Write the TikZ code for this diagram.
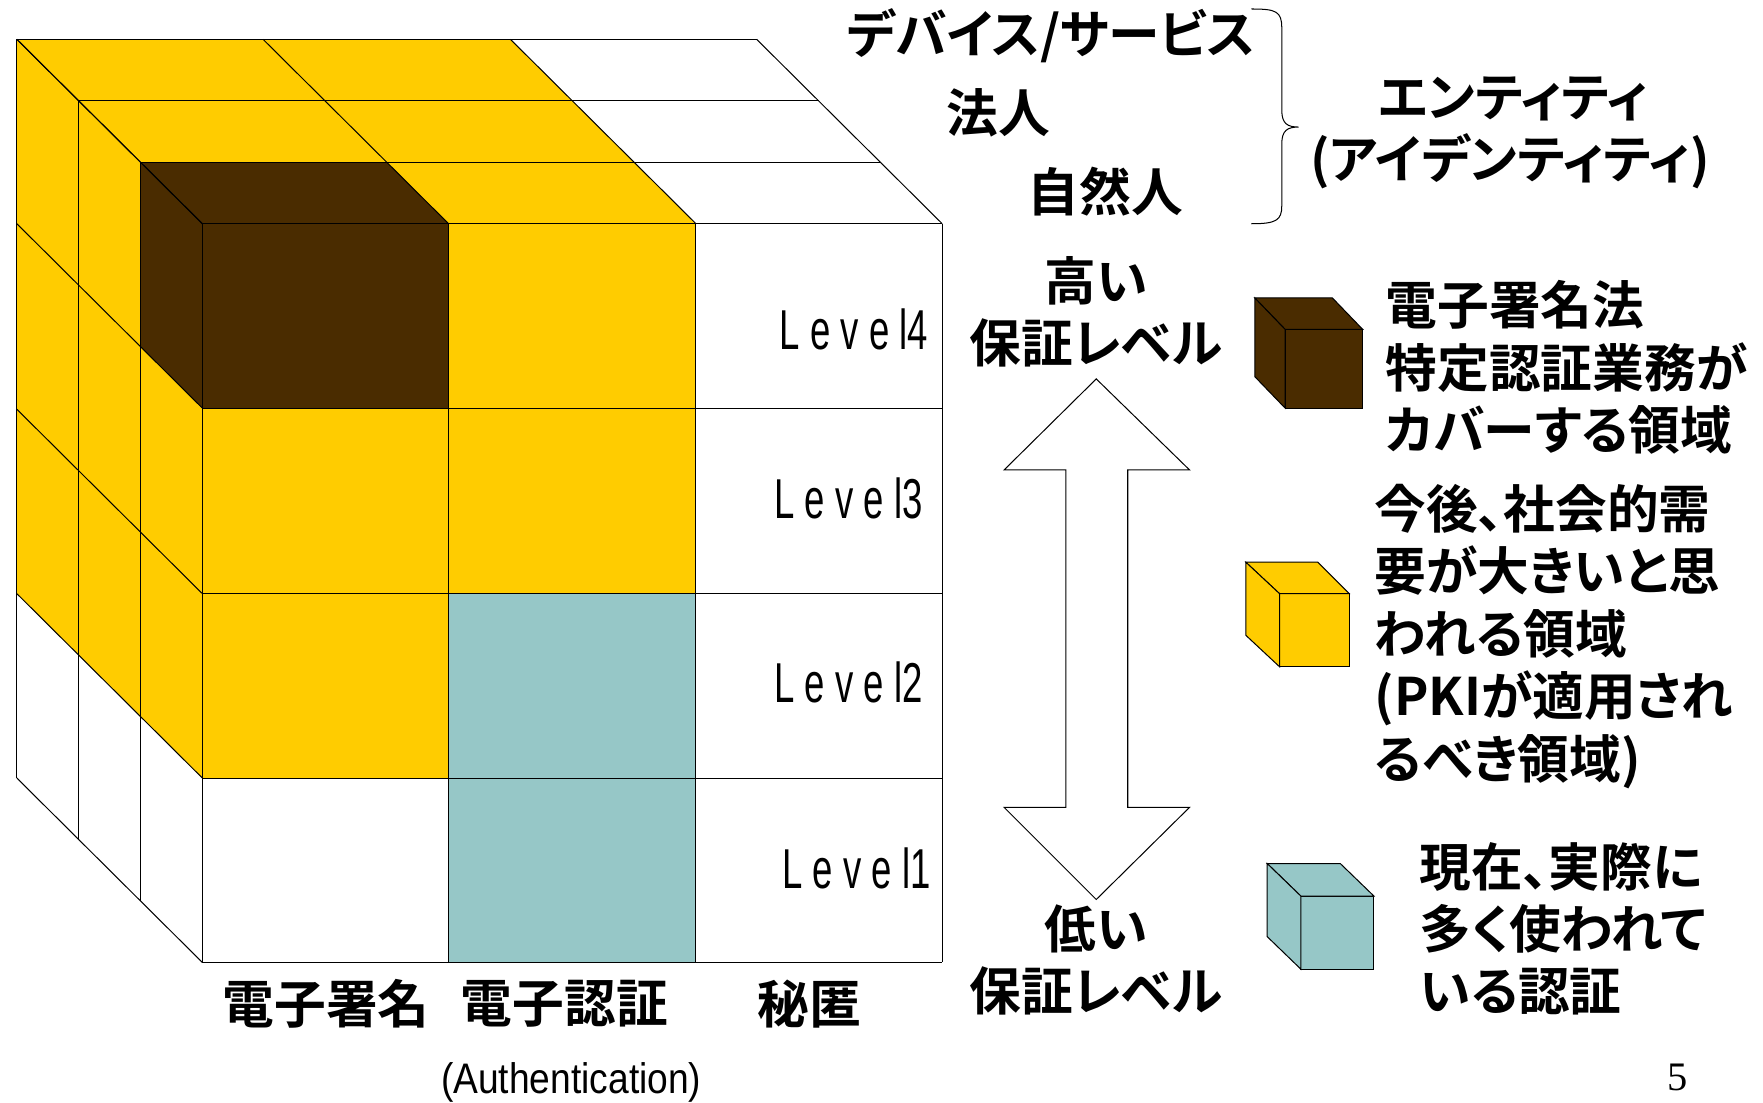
\documentclass[tikz,border=0pt]{standalone}
\usepackage{fontspec}
\usepackage{graphicx}
\setmainfont{Liberation Sans}
\newfontfamily\jp{Noto Sans CJK JP}[BoldFont={Noto Sans CJK JP Bold},RawFeature=+palt]
\newfontfamily\pgserif{Liberation Serif}
\definecolor{ylw}{RGB}{255,204,0}
\definecolor{dbrown}{RGB}{74,44,0}
\definecolor{tealc}{RGB}{150,199,199}
\begin{document}
\begin{tikzpicture}[x=1pt,y=-1pt,line width=0.9pt,
  jtxt/.style={font=\jp\bfseries\fontsize{46}{55.5}\selectfont,inner sep=0pt},
  lvl/.style={font=\fontsize{50}{50}\selectfont,anchor=east,inner sep=0pt},
  edge/.style={draw=black,line width=0.9pt},
  bigarrow/.style={draw=black,fill=white,line width=0.9pt}]
\useasboundingbox (0,0) rectangle (1568,981);
\fill[white] (0,0) rectangle (1568,981);

% ---------- main cube: fills ----------
% front face
\fill[white]  (180,199) rectangle (838,856);
\fill[dbrown] (180,199) rectangle (399,363);
\fill[ylw]    (180,363) rectangle (399,692);
\fill[ylw]    (399,199) rectangle (619,528);
\fill[tealc]  (399,528) rectangle (619,856);
% top face
\fill[white]  (180,199) -- (838,199) -- (673,35) -- (15,35) -- cycle;
\fill[ylw]    (180,199) -- (619,199) -- (454,35) -- (15,35) -- cycle;
\fill[dbrown] (180,199) -- (399,199) -- (344,144.33) -- (125,144.33) -- cycle;
% left face
\fill[white]  (180,199) -- (180,856) -- (15,692) -- (15,35) -- cycle;
\fill[ylw]    (180,199) -- (180,692) -- (15,528) -- (15,35) -- cycle;
\fill[dbrown] (180,199) -- (180,363) -- (125,308.33) -- (125,144.33) -- cycle;

% ---------- main cube: lines ----------
% front grid
\foreach \yy in {199,363,528,692,856} \draw[edge] (180,\yy) -- (838,\yy);
\foreach \xx in {180,399,619,838} \draw[edge] (\xx,199) -- (\xx,856);
% top face
\foreach \d in {1,2,3} \draw[edge] ({180-55*\d},{199-54.667*\d}) -- ({838-55*\d},{199-54.667*\d});
\foreach \xx in {180,399,619,838} \draw[edge] (\xx,199) -- ({\xx-165},35);
% left face
\foreach \d in {1,2,3} \draw[edge] ({180-55*\d},{199-54.667*\d}) -- ({180-55*\d},{856-54.667*\d});
\foreach \yy in {199,363,528,692,856} \draw[edge] (180,\yy) -- (15,{\yy-164});

% ---------- level labels ----------
\node[lvl] (l4) at (826,293) {\scalebox{0.65}[1]{L e v e l4}};
\node[lvl] (l3) at (821,443) {\scalebox{0.65}[1]{L e v e l3}};
\node[lvl] (l2) at (821,607) {\scalebox{0.65}[1]{L e v e l2}};
\node[lvl] (l1) at (828,772) {\scalebox{0.65}[1]{L e v e l1}};

% ---------- axis labels ----------
\node[jtxt] (c1) at (290,893) {電子署名};
\node[jtxt] (c2) at (502,893) {電子認証};
\node[jtxt] (c3) at (720,893) {秘匿};
\node[font=\fontsize{38}{38}\selectfont,inner sep=0pt] (auth) at (508,963) {\scalebox{0.87}[1]{(Authentication)}};

\node[jtxt] (e3) at (935,32) {デバイス/サービス};
\node[jtxt] (e2) at (888,100) {法人};
\node[jtxt] (e1) at (983,170) {自然人};
\draw[edge] (1113,8) .. controls (1135,8) and (1140,10) .. (1140,25) -- (1140,98)
  .. controls (1140,110) and (1145,113) .. (1155,113)
  .. controls (1145,113) and (1140,116) .. (1140,128) -- (1140,183)
  .. controls (1140,196) and (1135,199) .. (1113,199);
\node[jtxt] (ent1) at (1346,88) {エンティティ};
\node[jtxt] (ent2) at (1343,143) {(アイデンティティ)};

% ---------- assurance arrow ----------
\node[jtxt] (hi1) at (975,250) {高い};
\node[jtxt] (hi2) at (975,305) {保証レベル};
\draw[bigarrow] (975,337) -- (1058,418) -- (1003,418) -- (1003,718) -- (1058,718)
  -- (975,800) -- (893,718) -- (948,718) -- (948,418) -- (893,418) -- cycle;
\node[jtxt] (lo1) at (975,826) {低い};
\node[jtxt] (lo2) at (975,881) {保証レベル};

% ---------- legend cubes ----------
\filldraw[fill=dbrown,edge] (1143,293) rectangle (1212,363);
\filldraw[fill=dbrown,edge] (1116,265) -- (1185,265) -- (1212,293) -- (1143,293) -- cycle;
\filldraw[fill=dbrown,edge] (1116,265) -- (1143,293) -- (1143,363) -- (1116,335) -- cycle;

\filldraw[fill=ylw,edge] (1138,528) rectangle (1200,593);
\filldraw[fill=ylw,edge] (1108,500) -- (1172,500) -- (1200,528) -- (1138,528) -- cycle;
\filldraw[fill=ylw,edge] (1108,500) -- (1138,528) -- (1138,593) -- (1108,565) -- cycle;

\filldraw[fill=tealc,edge] (1157,797) rectangle (1222,862);
\filldraw[fill=tealc,edge] (1127,768) -- (1192,768) -- (1222,797) -- (1157,797) -- cycle;
\filldraw[fill=tealc,edge] (1127,768) -- (1157,797) -- (1157,862) -- (1127,833) -- cycle;

% ---------- legend texts ----------
\node[jtxt,anchor=west,align=left] (leg1) at (1232,327) {電子署名法\\特定認証業務が\\カバーする領域};
\node[jtxt,anchor=west,align=left] (leg2) at (1222,566) {今後、社会的需\\要が大きいと思\\われる領域\\(PKIが適用され\\るべき領域)};
\node[jtxt,anchor=west,align=left] (leg3) at (1262,826) {現在、実際に\\多く使われて\\いる認証};

\node[font=\pgserif\fontsize{36}{36}\selectfont,inner sep=0pt] (pg) at (1492,958) {5};
\end{tikzpicture}
\end{document}
